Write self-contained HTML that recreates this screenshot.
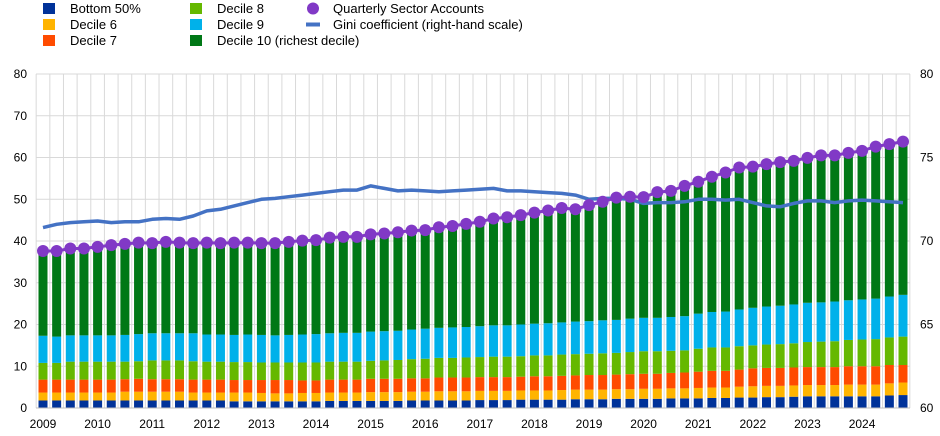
<!DOCTYPE html>
<html><head><meta charset="utf-8"><style>
html,body{margin:0;padding:0;background:#fff;width:940px;height:436px;overflow:hidden}
svg{display:block;font-family:"Liberation Sans",Arial,sans-serif}
</style></head><body>
<svg id="chart" width="940" height="436" viewBox="0 0 940 436" xmlns="http://www.w3.org/2000/svg">
<g id="legend" font-size="13" fill="#000">
 <g><rect x="43" y="3" width="12" height="11" fill="#003299"/><text x="70" y="13">Bottom 50%</text></g>
 <g><rect x="43" y="19" width="12" height="11" fill="#ffb400"/><text x="70" y="29">Decile 6</text></g>
 <g><rect x="43" y="35" width="12" height="11" fill="#ff4b00"/><text x="70" y="45">Decile 7</text></g>
 <g><rect x="190" y="3" width="12" height="11" fill="#65b800"/><text x="217" y="13">Decile 8</text></g>
 <g><rect x="190" y="19" width="12" height="11" fill="#00b1ea"/><text x="217" y="29">Decile 9</text></g>
 <g><rect x="190" y="35" width="12" height="11" fill="#007816"/><text x="217" y="45">Decile 10 (richest decile)</text></g>
 <g><circle cx="313" cy="8.5" r="6" fill="#8139c6"/><text x="333" y="13">Quarterly Sector Accounts</text></g>
 <g><rect x="306" y="22.5" width="14" height="4" fill="#4472c4"/><text x="333" y="29">Gini coefficient (right-hand scale)</text></g>
</g>
<g id="grid"></g>
<g id="bars"></g>
<g id="lines"></g>
<g id="axes" font-size="12" fill="#000"></g>
</svg>
<script>
const years = ["2009","2010","2011","2012","2013","2014","2015","2016","2017","2018","2019","2020","2021","2022","2023","2024"];
const leftTicks = [0,10,20,30,40,50,60,70,80];
const rightTicks = [60,65,70,75,80];
const bottom50 = [1.8,1.8,1.8,1.8, 1.8,1.8,1.8,1.8, 1.8,1.8,1.8,1.8, 1.8,1.8,1.6,1.6, 1.6,1.6,1.6,1.6, 1.6,1.7,1.7,1.7, 1.7,1.7,1.7,1.8, 1.8,1.8,1.8,1.8, 1.9,1.9,1.9,2.0, 2.0,2.0,2.0,2.1, 2.1,2.1,2.2,2.2, 2.2,2.2,2.3,2.3, 2.3,2.4,2.4,2.5, 2.5,2.6,2.6,2.7, 2.8,2.8,2.8,2.8, 2.8,2.8,3.0,3.1];
const decile6 = [1.9,1.9,1.9,1.9, 1.9,1.9,2.1,2.1, 2.1,2.1,2.1,1.9, 1.9,1.9,2.1,2.1, 2.0,1.9,1.9,2.0, 2.0,2.0,2.0,2.0, 2.1,2.1,2.1,2.1, 2.1,2.2,2.2,2.2, 2.2,2.2,2.2,2.2, 2.2,2.2,2.3,2.3, 2.3,2.3,2.3,2.3, 2.4,2.4,2.4,2.4, 2.5,2.5,2.5,2.6, 2.7,2.7,2.7,2.7, 2.7,2.7,2.7,2.8, 2.8,2.8,2.9,3.0];
const decile7 = [3.1,3.1,3.1,3.1, 3.1,3.1,3.0,3.1, 3.0,3.0,3.0,3.1, 3.1,3.1,3.0,3.0, 3.1,3.2,3.2,3.0, 3.0,3.1,3.1,3.1, 3.2,3.2,3.2,3.2, 3.2,3.3,3.3,3.3, 3.3,3.3,3.3,3.3, 3.4,3.4,3.4,3.4, 3.5,3.5,3.5,3.6, 3.6,3.6,3.7,3.8, 3.9,4.0,4.0,4.1, 4.3,4.3,4.3,4.3, 4.3,4.3,4.3,4.4, 4.4,4.4,4.4,4.2];
const decile8 = [4.0,4.0,4.3,4.3, 4.3,4.3,4.2,4.2, 4.5,4.5,4.5,4.4, 4.3,4.3,4.3,4.3, 4.2,4.2,4.2,4.3, 4.3,4.3,4.3,4.3, 4.3,4.4,4.5,4.6, 4.7,4.7,4.7,4.8, 4.8,4.9,4.9,4.9, 5.0,5.0,5.1,5.1, 5.1,5.2,5.2,5.3, 5.4,5.4,5.3,5.3, 5.5,5.6,5.6,5.6, 5.5,5.6,5.7,5.8, 6.0,6.1,6.2,6.3, 6.4,6.5,6.6,6.8];
const decile9 = [6.5,6.3,6.3,6.3, 6.3,6.3,6.4,6.5, 6.5,6.5,6.5,6.7, 6.5,6.5,6.5,6.6, 6.6,6.5,6.6,6.7, 6.8,6.8,6.9,6.9, 7.0,7.0,7.0,7.1, 7.2,7.2,7.3,7.3, 7.4,7.5,7.5,7.6, 7.6,7.7,7.7,7.8, 7.8,7.9,7.9,8.0, 8.0,8.0,8.1,8.2, 8.4,8.5,8.6,8.8, 9.0,9.1,9.2,9.3, 9.4,9.4,9.5,9.5, 9.6,9.7,9.8,10.0];
const sectorTotal = [37.6,37.6,38.2,38.2, 38.6,39.0,39.3,39.6, 39.5,39.8,39.6,39.5, 39.6,39.5,39.6,39.6, 39.5,39.5,39.8,40.1, 40.2,40.8,41.0,41.0, 41.6,41.8,42.1,42.5, 42.6,43.3,43.6,44.1, 44.6,45.4,45.7,46.2, 46.8,47.3,47.9,47.6, 48.6,49.4,50.4,50.6, 50.5,51.7,52.0,53.2, 54.2,55.4,56.4,57.6, 57.8,58.4,58.9,59.2, 59.9,60.5,60.5,61.1, 61.6,62.6,63.2,63.8];
const gini = [70.8,71.0,71.1,71.15, 71.2,71.1,71.15,71.15, 71.3,71.35,71.3,71.5, 71.8,71.9,72.1,72.3, 72.5,72.55,72.65,72.75, 72.85,72.95,73.05,73.05, 73.3,73.15,73.0,73.05, 73.0,72.95,73.0,73.05, 73.1,73.15,73.0,73.0, 72.95,72.9,72.85,72.75, 72.5,72.55,72.55,72.5, 72.25,72.3,72.3,72.35, 72.5,72.5,72.45,72.5, 72.3,72.1,72.05,72.25, 72.4,72.4,72.3,72.4, 72.45,72.4,72.35,72.3];

const NS="http://www.w3.org/2000/svg";
const L=36,R=910,T=74,B=408,N=bottom50.length,step=(903-43)/63;
const xPos=i=>43+i*step;
const yL=v=>B-(v/80)*(B-T);
const yR=v=>B-((v-60)/20)*(B-T);
function mk(tag,attrs,parent){const e=document.createElementNS(NS,tag);for(const k in attrs)e.setAttribute(k,attrs[k]);parent.appendChild(e);return e;}
const grid=document.getElementById('grid'),bars=document.getElementById('bars'),lines=document.getElementById('lines'),axes=document.getElementById('axes');
leftTicks.forEach(t=>{const l=mk('line',{x1:L,x2:R,y1:yL(t),y2:yL(t),stroke:'#d9d9d9','stroke-width':1},grid);

});
for(let i=0;i<=N;i++){const x=xPos(i)-step/2;const l=mk('line',{x1:x,x2:x,y1:T,y2:B,stroke:'#d9d9d9','stroke-width':1},grid);

}
const series=[[bottom50,'#003299','bottom-50'],[decile6,'#ffb400','decile-6'],[decile7,'#ff4b00','decile-7'],[decile8,'#65b800','decile-8'],[decile9,'#00b1ea','decile-9']];
for(let i=0;i<N;i++){let base=0;const x=xPos(i)-4.5;
 series.forEach(s=>{const v=s[0][i];const r=mk('rect',{x:x,y:yL(base+v),width:9,height:yL(base)-yL(base+v),fill:s[1]},bars);
 
 
 base+=v;});
 const top=sectorTotal[i];const r=mk('rect',{x:x,y:yL(top),width:9,height:Math.max(0,yL(base)-yL(top)),fill:'#007816'},bars);
 
 }
const gp=gini.map((v,i)=>(i?'L':'M')+xPos(i).toFixed(1)+' '+yR(v).toFixed(1)).join(' ');
const gl=mk('path',{d:gp,fill:'none',stroke:'#4472c4','stroke-width':3.5,'stroke-linejoin':'round'},lines);


const sp=sectorTotal.map((v,i)=>(i?'L':'M')+xPos(i).toFixed(1)+' '+yL(v).toFixed(1)).join(' ');
const sl=mk('path',{d:sp,fill:'none',stroke:'#8139c6','stroke-width':3},lines);


sectorTotal.forEach((v,i)=>{const c=mk('circle',{cx:xPos(i),cy:yL(v),r:6,fill:'#8139c6'},lines);

});
const ax=mk('line',{x1:L,x2:R,y1:B,y2:B,stroke:'#bfbfbf','stroke-width':1},axes);


leftTicks.forEach(t=>{const tx=mk('text',{x:27,y:yL(t)+4,'text-anchor':'end'},axes);tx.textContent=t;

});
rightTicks.forEach(t=>{const tx=mk('text',{x:920,y:yR(t)+4},axes);tx.textContent=t;

});
years.forEach((y,k)=>{const tx=mk('text',{x:xPos(k*4),y:428,'text-anchor':'middle'},axes);tx.textContent=y;

});
</script>
</body></html>
